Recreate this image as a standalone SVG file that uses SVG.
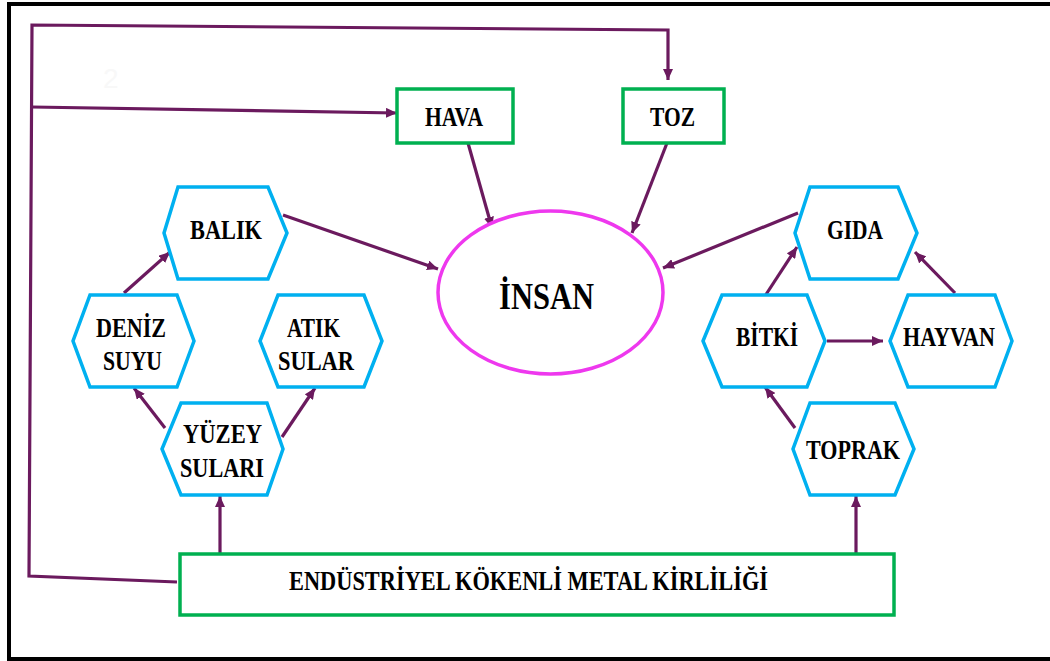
<svg xmlns="http://www.w3.org/2000/svg" width="1050" height="661" viewBox="0 0 1050 661">
<style>
.hex{fill:#ffffff;stroke:#00b0f0;stroke-width:3.5;stroke-linejoin:miter}
.box{fill:#ffffff;stroke:#00b050;stroke-width:3.5}
.lbl{font-family:"Liberation Serif","Times New Roman",serif;font-weight:bold;font-size:28px;fill:#000000;text-anchor:middle}
.big{font-size:38px}
.con{fill:none;stroke:#6b1a5e;stroke-width:3.2;stroke-linejoin:miter}
</style>
<defs>
<marker id="ah" markerUnits="userSpaceOnUse" markerWidth="12" markerHeight="10" refX="11" refY="5" orient="auto">
<path d="M0,0 L11,5 L0,10 z" fill="#6b1a5e"/>
</marker>
</defs>
<rect x="0" y="0" width="1050" height="661" fill="#ffffff"/>
<rect id="frame" x="9" y="4" width="1060" height="655" fill="none" stroke="#000000" stroke-width="4"/>
<text x="103" y="88" font-family="Liberation Sans, Arial, sans-serif" font-size="28" fill="#f8f8f8">2</text>

<g id="connectors">
<polyline class="con" points="177,582 29,576 32,25 668,30 668,80" marker-end="url(#ah)"/>
<line class="con" x1="32" y1="107" x2="397" y2="113" marker-end="url(#ah)"/>
<line class="con" x1="468" y1="143" x2="492" y2="228" marker-end="url(#ah)"/>
<line class="con" x1="667" y1="143" x2="632" y2="233" marker-end="url(#ah)"/>
<line class="con" x1="283" y1="215" x2="438" y2="269" marker-end="url(#ah)"/>
<line class="con" x1="798" y1="213" x2="663" y2="268" marker-end="url(#ah)"/>
<line class="con" x1="124" y1="293" x2="170" y2="252" marker-end="url(#ah)"/>
<line class="con" x1="165" y1="428" x2="134" y2="388" marker-end="url(#ah)"/>
<line class="con" x1="282" y1="437" x2="315" y2="388" marker-end="url(#ah)"/>
<line class="con" x1="765" y1="296" x2="797" y2="247" marker-end="url(#ah)"/>
<line class="con" x1="955" y1="293" x2="915" y2="252" marker-end="url(#ah)"/>
<line class="con" x1="827" y1="341" x2="883" y2="341" marker-end="url(#ah)"/>
<line class="con" x1="795" y1="428" x2="765" y2="387" marker-end="url(#ah)"/>
<line class="con" x1="220" y1="553" x2="220" y2="496" marker-end="url(#ah)"/>
<line class="con" x1="856" y1="553" x2="856" y2="496" marker-end="url(#ah)"/>
</g>

<g id="hava">
<rect class="box" x="397" y="89" width="116" height="54"/>
<text class="lbl" x="454" y="126" textLength="58" lengthAdjust="spacingAndGlyphs">HAVA</text>
</g>
<g id="toz">
<rect class="box" x="623" y="89" width="101" height="54"/>
<text class="lbl" x="672.5" y="126" textLength="45" lengthAdjust="spacingAndGlyphs">TOZ</text>
</g>
<g id="insan">
<ellipse cx="550.5" cy="292.5" rx="112.5" ry="81.5" fill="#ffffff" stroke="#ee38ee" stroke-width="3.5"/>
<text class="lbl big" x="546.5" y="309" textLength="95" lengthAdjust="spacingAndGlyphs">İNSAN</text>
</g>
<g id="balik">
<polygon class="hex" points="178,187 268,187 287,233 268,279 178,279 164,233"/>
<text class="lbl" x="226" y="239" textLength="72" lengthAdjust="spacingAndGlyphs">BALIK</text>
</g>
<g id="deniz-suyu">
<polygon class="hex" points="90,295 177,295 194,341 177,387 90,387 73,341"/>
<text class="lbl" x="131" y="337" textLength="70" lengthAdjust="spacingAndGlyphs">DENİZ</text>
<text class="lbl" x="132.5" y="370" textLength="59" lengthAdjust="spacingAndGlyphs">SUYU</text>
</g>
<g id="atik-sular">
<polygon class="hex" points="278,295 364,295 382,341 364,387 278,387 260,341"/>
<text class="lbl" x="313.5" y="337" textLength="53" lengthAdjust="spacingAndGlyphs">ATIK</text>
<text class="lbl" x="316" y="370" textLength="76" lengthAdjust="spacingAndGlyphs">SULAR</text>
</g>
<g id="yuzey-sulari">
<polygon class="hex" points="181,403 267,403 283,449 267,495 181,495 162,449"/>
<text class="lbl" x="222.5" y="443" textLength="79" lengthAdjust="spacingAndGlyphs">YÜZEY</text>
<text class="lbl" x="222" y="477" textLength="84" lengthAdjust="spacingAndGlyphs">SULARI</text>
</g>
<g id="gida">
<polygon class="hex" points="810,187 898,187 917,233 898,279 810,279 795,233"/>
<text class="lbl" x="855" y="239" textLength="56" lengthAdjust="spacingAndGlyphs">GIDA</text>
</g>
<g id="bitki">
<polygon class="hex" points="722,295 807,295 825,341 807,387 722,387 703,341"/>
<text class="lbl" x="767" y="346" textLength="62" lengthAdjust="spacingAndGlyphs">BİTKİ</text>
</g>
<g id="hayvan">
<polygon class="hex" points="908,295 995,295 1012,341 995,387 908,387 890,341"/>
<text class="lbl" x="949" y="346" textLength="92" lengthAdjust="spacingAndGlyphs">HAYVAN</text>
</g>
<g id="toprak">
<polygon class="hex" points="810,403 895,403 914,449 895,495 810,495 793,449"/>
<text class="lbl" x="853" y="459" textLength="94" lengthAdjust="spacingAndGlyphs">TOPRAK</text>
</g>
<g id="endustriyel">
<rect class="box" x="180" y="554" width="714" height="61"/>
<text class="lbl" x="528.5" y="590" textLength="479" lengthAdjust="spacingAndGlyphs">ENDÜSTRİYEL KÖKENLİ METAL KİRLİLİĞİ</text>
</g>
</svg>
